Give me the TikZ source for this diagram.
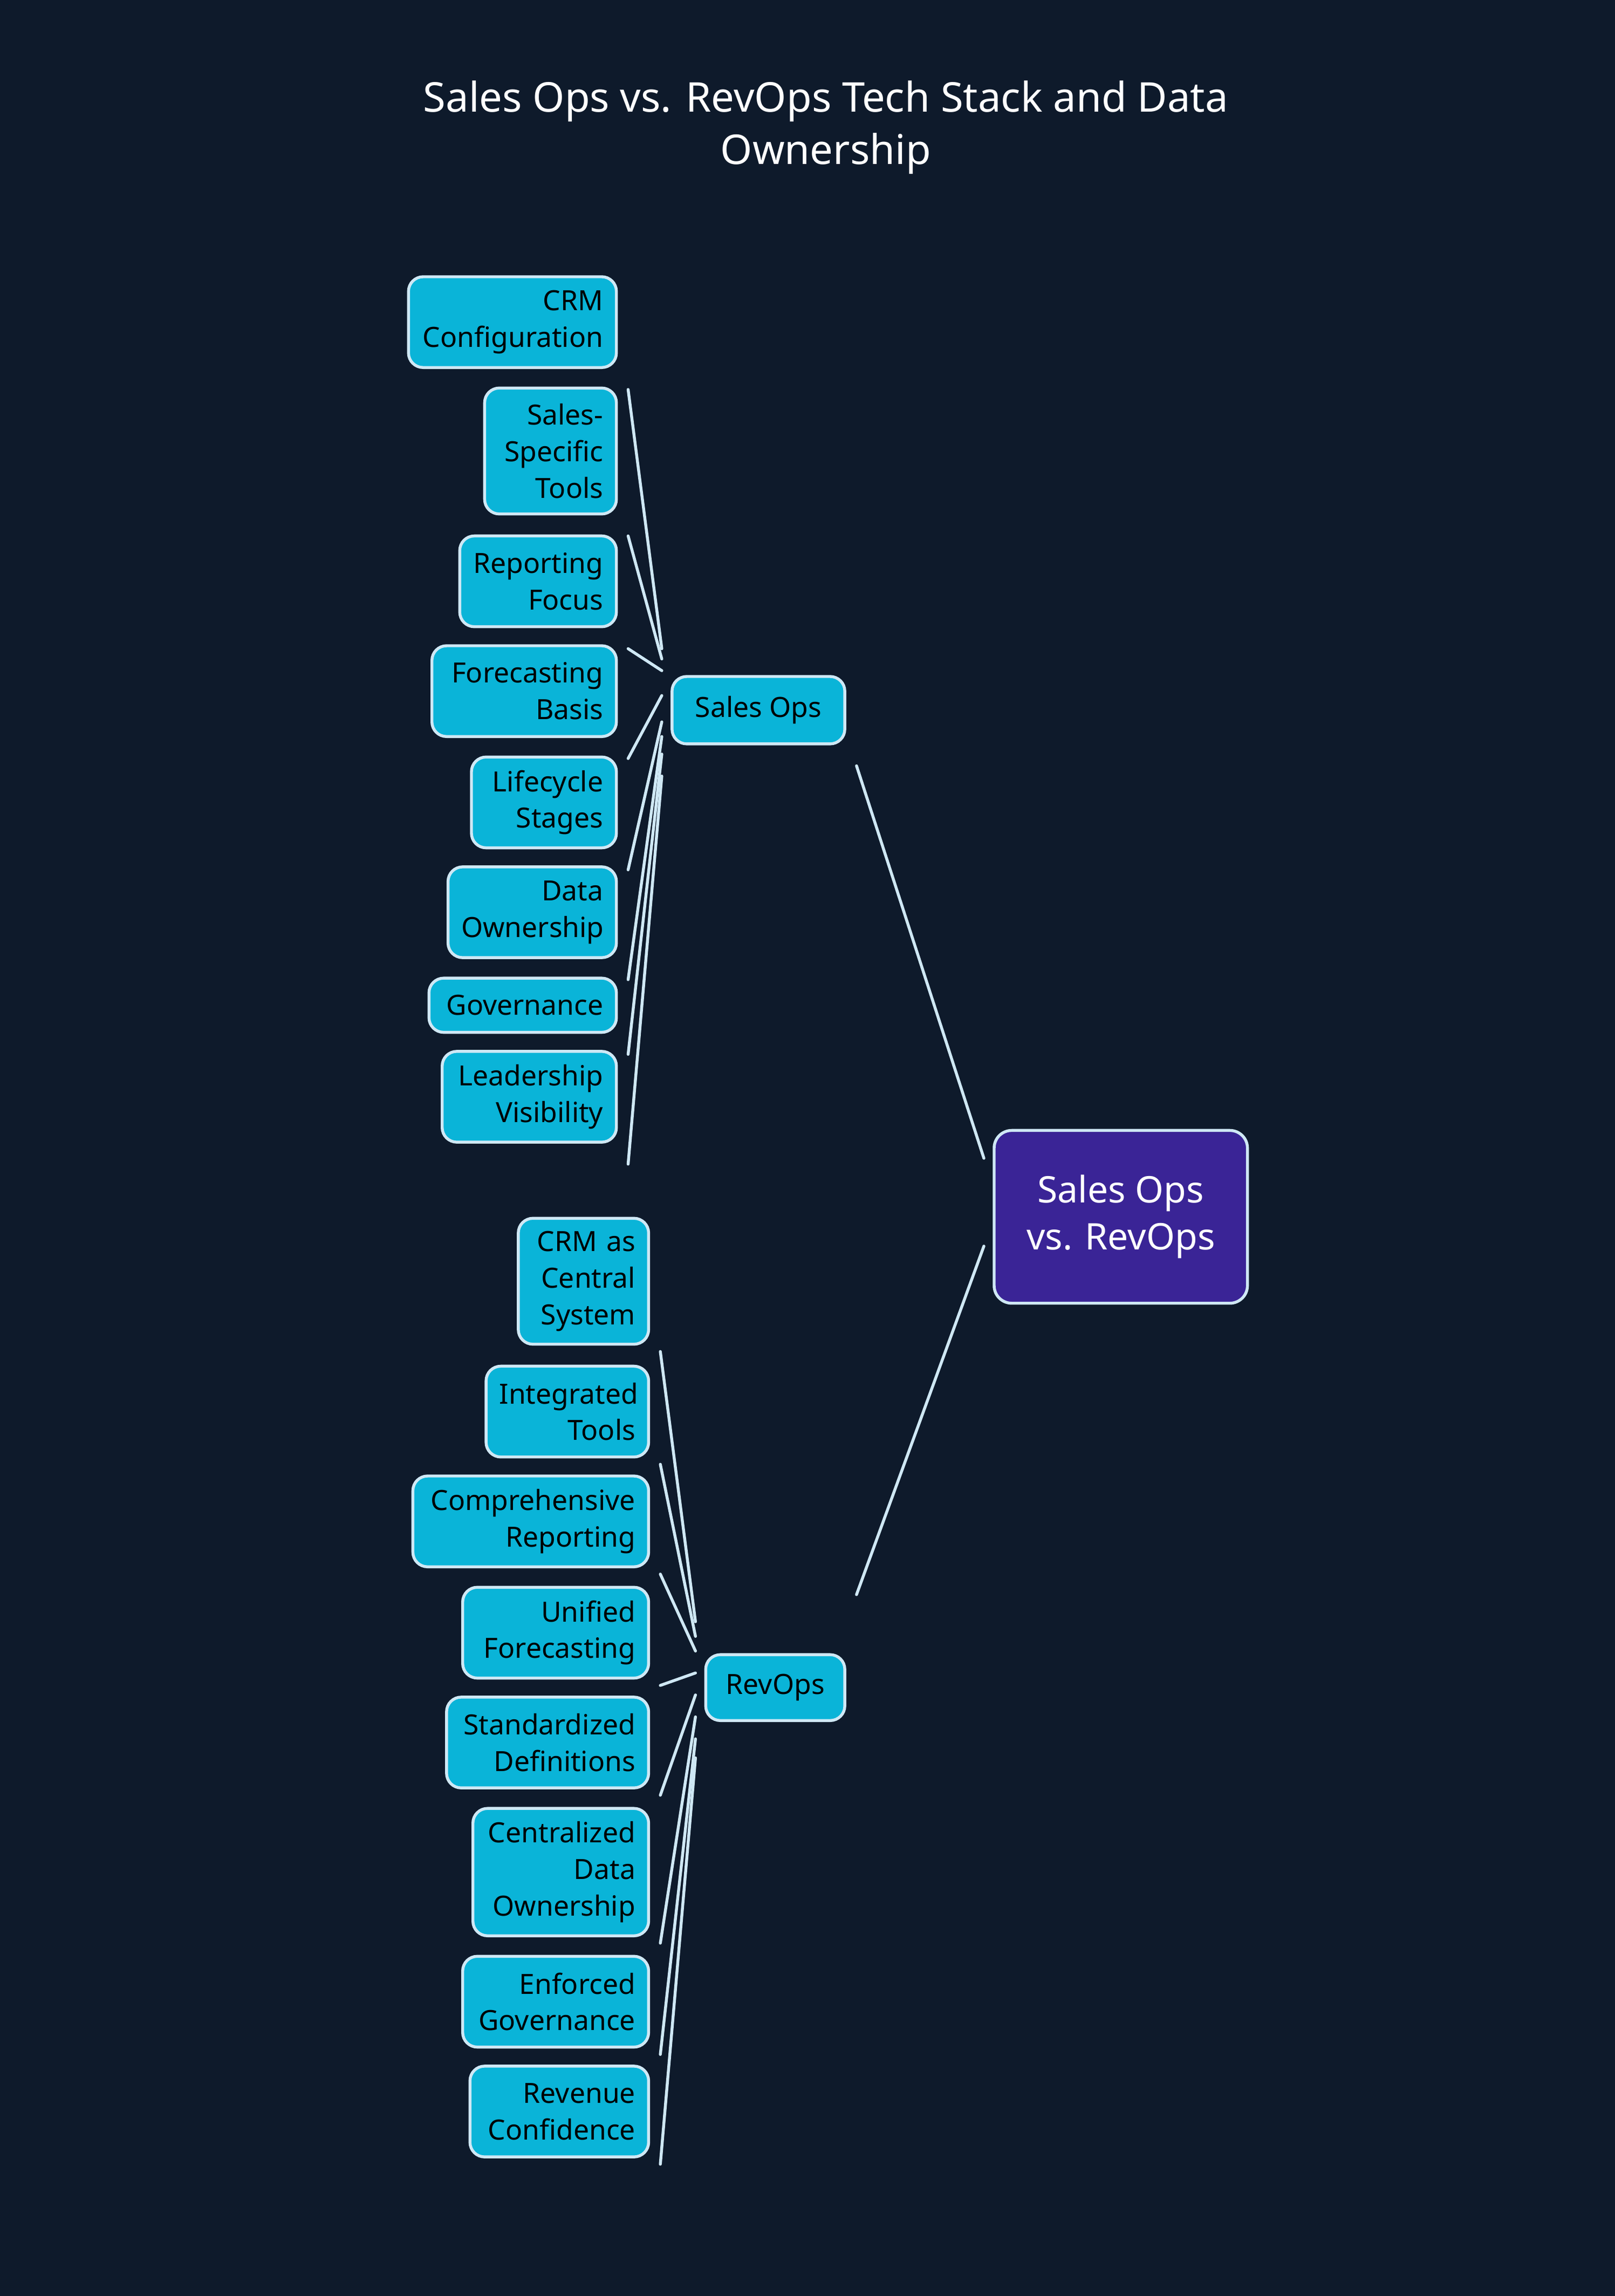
\documentclass[tikz,border=0pt]{standalone}
\usepackage{fontspec}
\setmainfont{Noto Sans}
\definecolor{bg}{HTML}{0E1A2B}
\definecolor{leafc}{HTML}{0AB4D8}
\definecolor{edgec}{HTML}{CFE8F5}
\definecolor{rootc}{HTML}{3A2496}
\tikzset{
 leaf/.style={draw=edgec,fill=leafc,line width=2pt,rounded corners=10pt,inner sep=0pt,align=right,font=\fontsize{19}{25}\selectfont,text=black},
 conn/.style={draw=edgec,line width=2pt,line cap=round}
}
\newcommand\leafnode[6]{%
 \pgfmathsetmacro\lw{#4-#2}\pgfmathsetmacro\lh{#5-#3}\pgfmathsetmacro\tw{#4-#2-18}%
 \pgfmathsetmacro\cx{(#2+#4)/2}\pgfmathsetmacro\cy{-(#3+#5)/2}%
 \node[leaf,minimum width=\lw pt,minimum height=\lh pt,text width=\tw pt] (#1) at (\cx,\cy) {#6};}
\begin{document}
\begin{tikzpicture}[x=1pt,y=1pt]
\fill[bg] (0,0) rectangle (1103,-1568);
\useasboundingbox (0,0) rectangle (1103,-1568);
\node[text=white,font=\fontsize{28}{36}\selectfont,align=center] (title) at (564,-87) {Sales Ops vs. RevOps Tech Stack and Data\\Ownership};
\node[draw=edgec,fill=rootc,line width=2pt,rounded corners=12pt,minimum width=173pt,minimum height=118pt,align=center,text=white,font=\fontsize{25}{32}\selectfont\bfseries] (root) at (765.5,-831) {Sales Ops\\vs. RevOps};
\node[leaf,align=center,text width=,minimum width=118pt,minimum height=46pt] (so) at (518,-485) {Sales Ops};
\node[leaf,align=center,text width=,minimum width=95pt,minimum height=45pt] (ro) at (529.5,-1152.5) {RevOps};
\leafnode{a1}{279}{189}{421}{251}{CRM\\Configuration}
\leafnode{a2}{331}{265}{421}{351}{Sales-\\Specific\\Tools}
\leafnode{a3}{314}{366}{421}{428}{Reporting\\Focus}
\leafnode{a4}{295}{441}{421}{503}{Forecasting\\Basis}
\leafnode{a5}{322}{517}{421}{579}{Lifecycle\\Stages}
\leafnode{a6}{306}{592}{421}{654}{Data\\Ownership}
\leafnode{a7}{293}{668}{421}{705}{Governance}
\leafnode{a8}{302}{718}{421}{780}{Leadership\\Visibility}
\leafnode{b1}{354}{832}{443}{918}{CRM as\\Central\\System}
\leafnode{b2}{332}{933}{443}{995}{Integrated\\Tools}
\leafnode{b3}{282}{1008}{443}{1070}{Comprehensive\\Reporting}
\leafnode{b4}{316}{1084}{443}{1146}{Unified\\Forecasting}
\leafnode{b5}{305}{1159}{443}{1221}{Standardized\\Definitions}
\leafnode{b6}{323}{1235}{443}{1322}{Centralized\\Data\\Ownership}
\leafnode{b7}{316}{1336}{443}{1398}{Enforced\\Governance}
\leafnode{b8}{321}{1411}{443}{1473}{Revenue\\Confidence}
\draw[conn] ([xshift=7pt,yshift=-14pt]so.south east) -- ([xshift=-6pt,yshift=-20pt]root.north west);
\draw[conn] ([xshift=7pt,yshift=40pt]ro.north east) -- ([xshift=-6pt,yshift=40pt]root.south west);
\foreach \n/\d in {a1/42,a2/35,a3/27,a4/10,a5/-8,a6/-18,a7/-30,a8/-45}
 \draw[conn] ([xshift=7pt,yshift=-14pt]\n.south east) -- ([xshift=-6pt,yshift=\d pt]so.west);
\foreach \n/\d in {b1/45,b2/35,b3/25,b4/10,b5/-5,b6/-20,b7/-35,b8/-48}
 \draw[conn] ([xshift=7pt,yshift=-4pt]\n.south east) -- ([xshift=-6pt,yshift=\d pt]ro.west);
\end{tikzpicture}
\end{document}
